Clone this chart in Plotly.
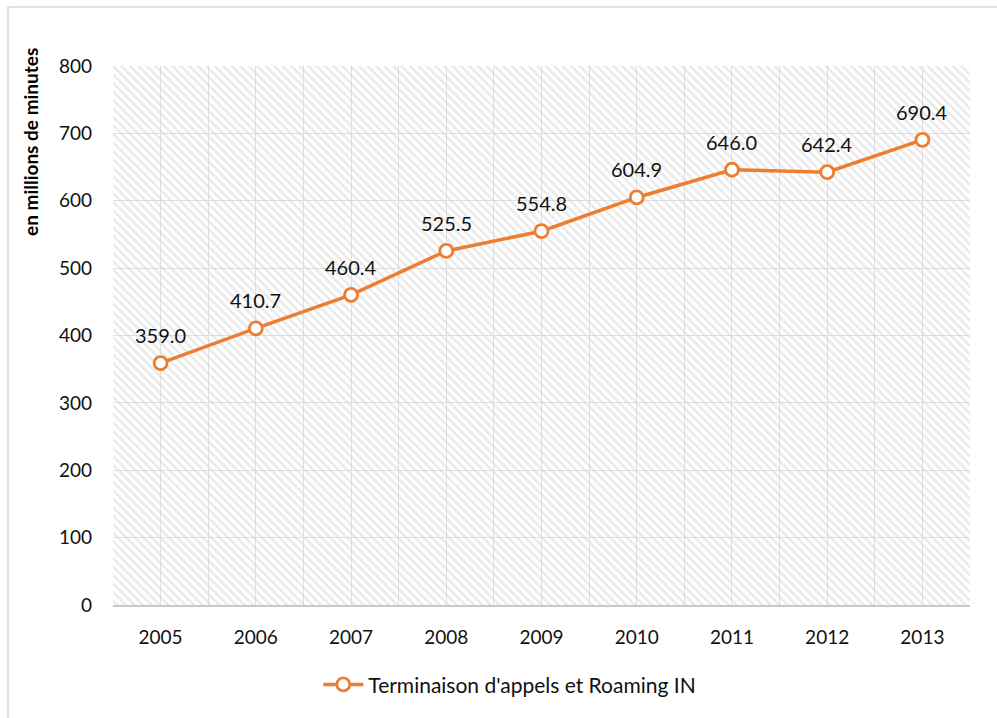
import plotly.graph_objects as go

years = [2005, 2006, 2007, 2008, 2009, 2010, 2011, 2012, 2013]
values = [359.0, 410.7, 460.4, 525.5, 554.8, 604.9, 646.0, 642.4, 690.4]
series_name = "Terminaison d'appels et Roaming IN"
y_title = "en millions de minutes"
y_max = 800

ORANGE = "#ED7D31"
GRID = "#e0e0e0"
FONT = "Lato, 'Open Sans', sans-serif"
TXT = "#111111"

x_lo, x_hi = years[0] - 0.5, years[-1] + 0.5

fig = go.Figure()

# hatched plot-area background (transparent so grid shows through)
fig.add_trace(go.Scatter(
    x=[x_lo, x_hi, x_hi, x_lo, x_lo], y=[0, 0, y_max, y_max, 0],
    mode="none", fill="toself", fillcolor="rgba(0,0,0,0)",
    fillpattern=dict(shape="\\", fgcolor="#d4d4d4", bgcolor="rgba(0,0,0,0)", size=6, solidity=0.4),
    hoverinfo="skip", showlegend=False,
))

fig.add_trace(go.Scatter(
    x=years, y=values, name=series_name,
    mode="lines+markers",
    line=dict(color=ORANGE, width=3.5),
    marker=dict(symbol="circle", size=13, color="white", line=dict(color=ORANGE, width=2.8)),
    cliponaxis=False,
))

annotations = [dict(x=x, y=v, text=f"{v:.1f}", showarrow=False, yshift=28,
                    xanchor="center", yanchor="middle",
                    font=dict(family=FONT, size=20, color=TXT))
               for x, v in zip(years, values)]
annotations.append(dict(text=f"<b>{y_title}</b>", textangle=-90, xref="paper", yref="paper",
                        x=(30 - 113) / 857, y=(605 - 142) / 539, xanchor="center", yanchor="middle",
                        showarrow=False, font=dict(family=FONT, size=19, color="#000")))

fig.update_layout(
    width=997, height=718,
    margin=dict(l=113, r=27, t=66, b=113),
    paper_bgcolor="white", plot_bgcolor="white",
    font=dict(family=FONT, size=19, color=TXT),
    showlegend=True,
    legend=dict(orientation="h", x=0.463, xanchor="center", y=-0.148, yanchor="middle",
                font=dict(size=21), itemwidth=40, bgcolor="rgba(0,0,0,0)"),
    xaxis=dict(range=[x_lo, x_hi], tickvals=years, ticktext=[str(y) for y in years],
               showgrid=True, gridcolor=GRID, gridwidth=1,
               minor=dict(dtick=0.5, tick0=x_lo, showgrid=True, gridcolor=GRID, gridwidth=1),
               showline=True, linecolor="#c8c8c8", linewidth=2,
               ticks="", ticklabelstandoff=14, zeroline=False, fixedrange=True),
    yaxis=dict(range=[0, y_max], dtick=100, showgrid=True, gridcolor=GRID, gridwidth=1,
               zeroline=False, showline=False, ticks="", ticklabelstandoff=20, fixedrange=True),
    shapes=[dict(type="rect", xref="paper", yref="paper",
                 x0=(8 - 113) / 857, x1=(1005 - 113) / 857,
                 y0=(605 - 725) / 539, y1=1 + (66 - 7) / 539,
                 line=dict(color="#d9d9d9", width=1.5), fillcolor="rgba(0,0,0,0)", layer="below")],
    annotations=annotations,
)

fig.write_html("out.html")
